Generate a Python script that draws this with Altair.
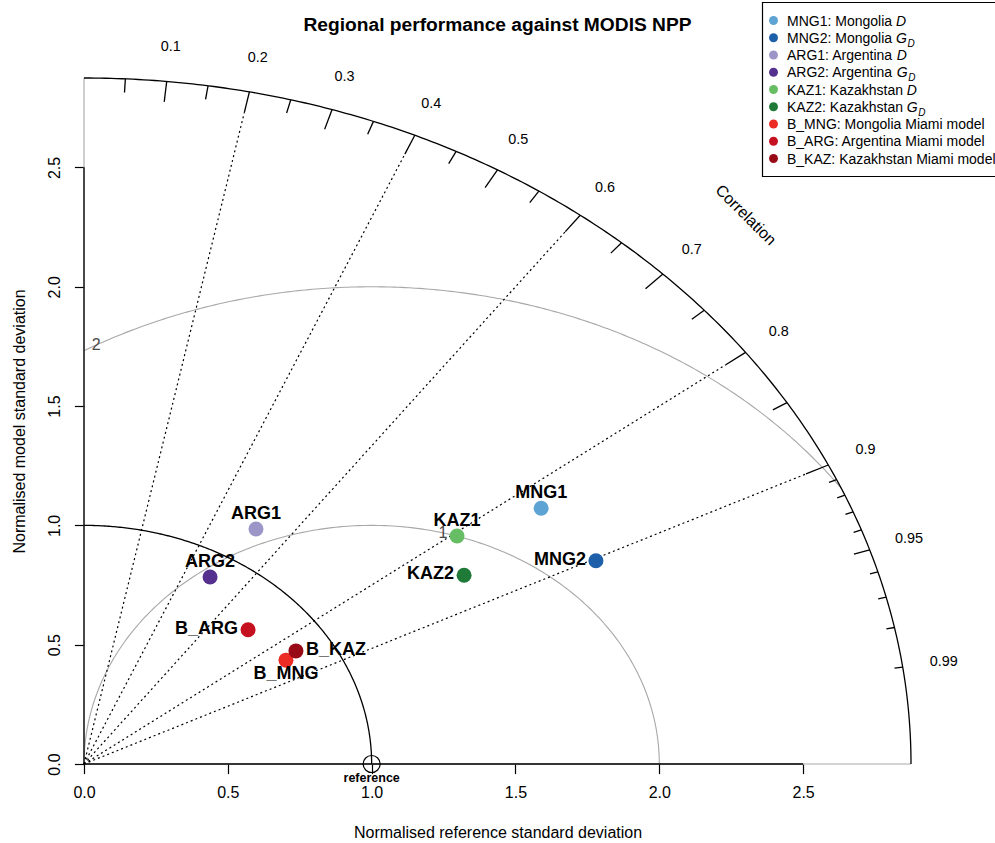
import numpy as np
import pandas as pd
import altair as alt

FONT = "Liberation Sans"

# ---- model summary statistics, normalised by the MODIS NPP reference ----
names = ["MNG1", "MNG2", "ARG1", "ARG2", "KAZ1", "KAZ2", "B_MNG", "B_ARG", "B_KAZ"]
norm_sd = [1.917, 1.973, 1.152, 0.898, 1.611, 1.540, 0.826, 0.801, 0.876]
correlation = [0.829, 0.902, 0.519, 0.488, 0.805, 0.858, 0.850, 0.712, 0.841]
point_colors = ["#5DA4D4", "#1E5FAA", "#9C96C8", "#55308F", "#66BD63",
                "#1E7A36", "#EC2B25", "#C5101F", "#990A17"]
label_side = ["above", "left", "above", "above", "above", "left", "below", "left", "right"]

legend_text = ["MNG1: Mongolia ", "MNG2: Mongolia ", "ARG1: Argentina ",
               "ARG2: Argentina ", "KAZ1: Kazakhstan ", "KAZ2: Kazakhstan ",
               "B_MNG: Mongolia Miami model", "B_ARG: Argentina Miami model",
               "B_KAZ: Kazakhstan Miami model"]
legend_math = ["D", "G_D", "D", "G_D", "D", "G_D", "", "", ""]

TITLE = "Regional performance against MODIS NPP"

# ---- diagram geometry ----
MAX_SD = 2.875
REF_SD = 1.0
RMS_LEVELS = [1, 2]
RMS_LABEL_ANGLE = [1.32, 2.07]
MAJOR_CORR = [0.1, 0.2, 0.3, 0.4, 0.5, 0.6, 0.7, 0.8, 0.9]
MED_CORR = [0.05, 0.15, 0.25, 0.35, 0.45, 0.55, 0.65, 0.75, 0.85, 0.95]
MINOR_CORR = [0.91, 0.92, 0.93, 0.94, 0.96, 0.97, 0.98, 0.99]
LABEL_CORR = MAJOR_CORR + [0.95, 0.99]
RAY_CORR = [0.2, 0.4, 0.6, 0.8, 0.9]
AXIS_TICKS = [0.0, 0.5, 1.0, 1.5, 2.0, 2.5]

W, H = 827, 686
PAD_L, PAD_T = 84, 78

xs = alt.Scale(domain=[0, MAX_SD], nice=False, zero=False)
ys = alt.Scale(domain=[0, MAX_SD], nice=False, zero=False)

x_axis = alt.Axis(values=AXIS_TICKS, format=".1f", domain=False, grid=False,
                  tickColor="black", tickSize=9.6, tickWidth=1.2,
                  labelFont=FONT, labelFontSize=16, labelColor="black",
                  labelPadding=11, labelFlush=False, labelOverlap=False,
                  title="Normalised reference standard deviation",
                  titleFont=FONT, titleFontSize=16, titleFontWeight="normal",
                  titleColor="black", titleX=W / 2, titleY=73,
                  titleBaseline="alphabetic", titleAlign="center")
y_axis = alt.Axis(values=AXIS_TICKS, format=".1f", domain=False, grid=False,
                  tickColor="black", tickSize=9.6, tickWidth=1.2,
                  labelFont=FONT, labelFontSize=16, labelColor="black",
                  labelAngle=270, labelAlign="center", labelBaseline="alphabetic",
                  labelPadding=15.4, labelFlush=False, labelOverlap=False,
                  title="Normalised model standard deviation",
                  titleFont=FONT, titleFontSize=16, titleFontWeight="normal",
                  titleColor="black", titleAngle=270, titleX=-60, titleY=H / 2,
                  titleBaseline="alphabetic", titleAlign="center")


# every layer carries the same axis definition so the shared axes merge cleanly
def X(field="x"):
    return alt.X(f"{field}:Q", scale=xs, axis=x_axis)


def Y(field="y"):
    return alt.Y(f"{field}:Q", scale=ys, axis=y_axis)


# page pixel -> data units on the shared scales (legend and title placement)
def px_x(px):
    return (px - PAD_L) / W * MAX_SD


def px_y(py):
    return (PAD_T + H - py) / H * MAX_SD


def arc_frame(cx, r, t0, t1, name, n=240):
    t = np.linspace(t0, t1, n)
    return pd.DataFrame({"x": cx + r * np.cos(t), "y": r * np.sin(t),
                         "i": np.arange(n), "arc": name})


# standard-deviation arcs: reference and outer boundary
sd_arcs = pd.concat([arc_frame(0, REF_SD, 0, np.pi / 2, "ref"),
                     arc_frame(0, MAX_SD, 0, np.pi / 2, "outer")])

# centred RMS difference arcs, kept inside the quadrant
rms_parts = []
for g in RMS_LEVELS:
    c_hi = (MAX_SD ** 2 - REF_SD ** 2 - g ** 2) / (2 * g * REF_SD)
    t0 = np.arccos(min(1.0, c_hi))
    t1 = np.arccos(max(-1.0, -REF_SD / g))
    rms_parts.append(arc_frame(REF_SD, g, t0, t1, f"rms{g}"))
rms_arcs = pd.concat(rms_parts)
rms_labels = pd.DataFrame({
    "x": [REF_SD + g * np.cos(a) for g, a in zip(RMS_LEVELS, RMS_LABEL_ANGLE)],
    "y": [g * np.sin(a) for g, a in zip(RMS_LEVELS, RMS_LABEL_ANGLE)],
    "t": [str(g) for g in RMS_LEVELS]})


def ray_frame(corrs, r0, r1):
    a = np.arccos(np.array(corrs))
    return pd.DataFrame({"x": r0 * np.cos(a), "y": r0 * np.sin(a),
                         "x2": r1 * np.cos(a), "y2": r1 * np.sin(a)})


rays = ray_frame(RAY_CORR, 0.0, 0.97 * MAX_SD)
ticks = pd.concat([ray_frame(MAJOR_CORR, 0.97 * MAX_SD, MAX_SD),
                   ray_frame(MED_CORR, 0.98 * MAX_SD, MAX_SD),
                   ray_frame(MINOR_CORR, 0.99 * MAX_SD, MAX_SD)])
la = np.arccos(np.array(LABEL_CORR))
corr_labels = pd.DataFrame({"x": 1.05 * MAX_SD * np.cos(la),
                            "y": 1.05 * MAX_SD * np.sin(la),
                            "t": [f"{c:g}" for c in LABEL_CORR]})

gray_axes = pd.DataFrame({"x": [0.0, 0.0], "y": [0.0, 0.0],
                          "x2": [MAX_SD, 0.0], "y2": [0.0, MAX_SD]})
black_axes = pd.DataFrame({"x": [0.0, 0.0], "y": [0.0, 0.0],
                           "x2": [AXIS_TICKS[-1], 0.0], "y2": [0.0, AXIS_TICKS[-1]]})

sd_arr = np.array(norm_sd)
cr_arr = np.array(correlation)
pts = pd.DataFrame({"name": names, "x": sd_arr * cr_arr,
                    "y": sd_arr * np.sqrt(1 - cr_arr ** 2),
                    "color": point_colors, "side": label_side})

ref_df = pd.DataFrame({"x": [REF_SD], "y": [0.0], "t": ["reference"]})
corr_title = pd.DataFrame({"x": [0.8 * MAX_SD], "y": [0.8 * MAX_SD], "t": ["Correlation"]})

l_points = alt.Chart(pts).mark_circle(size=225, opacity=1).encode(
    x=X(), y=Y(), color=alt.Color("color:N", scale=None))
l_gray_axes = alt.Chart(gray_axes).mark_rule(color="#A8A8A8", strokeWidth=1.1).encode(
    x=X(), y=Y(), x2="x2:Q", y2="y2:Q")
l_rms = alt.Chart(rms_arcs).mark_line(color="#A8A8A8", strokeWidth=1.1).encode(
    x=X(), y=Y(), order="i:Q", detail="arc:N")
l_rays = alt.Chart(rays).mark_rule(color="black", strokeWidth=1.2, strokeDash=[2, 3]).encode(
    x=X(), y=Y(), x2="x2:Q", y2="y2:Q")
l_sd = alt.Chart(sd_arcs).mark_line(color="black", strokeWidth=1.3).encode(
    x=X(), y=Y(), order="i:Q", detail="arc:N")
l_ticks = alt.Chart(ticks).mark_rule(color="black", strokeWidth=1.3).encode(
    x=X(), y=Y(), x2="x2:Q", y2="y2:Q")
l_black_axes = alt.Chart(black_axes).mark_rule(color="black", strokeWidth=1.3).encode(
    x=X(), y=Y(), x2="x2:Q", y2="y2:Q")
l_rms_lab = alt.Chart(rms_labels).mark_text(font=FONT, fontSize=16, color="#4a4a4a").encode(
    x=X(), y=Y(), text="t:N")
l_corr_lab = alt.Chart(corr_labels).mark_text(font=FONT, fontSize=14.4, color="black").encode(
    x=X(), y=Y(), text="t:N")
l_corr_title = alt.Chart(corr_title).mark_text(font=FONT, fontSize=16, color="black", angle=45).encode(
    x=X(), y=Y(), text="t:N")
l_ref = alt.Chart(ref_df).mark_point(shape="circle", filled=False, size=290,
                                     strokeWidth=1.2, color="black", opacity=1).encode(x=X(), y=Y())
l_ref_lab = alt.Chart(ref_df).mark_text(font=FONT, fontSize=12.5, fontWeight="bold",
                                        baseline="alphabetic", dy=18, color="black").encode(
    x=X(), y=Y(), text="t:N")

side_style = {"above": dict(align="center", baseline="middle", dy=-15),
              "below": dict(align="center", baseline="middle", dy=14),
              "left": dict(align="right", baseline="middle", dx=-10, dy=-1),
              "right": dict(align="left", baseline="middle", dx=10, dy=-1)}
l_pt_labels = [
    alt.Chart(pts).transform_filter(alt.datum.side == s).mark_text(
        font=FONT, fontSize=18, fontWeight="bold", color="black", **kw).encode(
        x=X(), y=Y(), text="name:N")
    for s, kw in side_style.items()
]

# ---- legend: regular text followed by italic symbols (G with subscript D) ----
ARIAL = {' ': 278, ':': 278, '_': 556, '1': 556, '2': 556, 'A': 667, 'B': 667,
         'G': 778, 'K': 667, 'M': 833, 'N': 722, 'R': 722, 'Z': 611, 'a': 556,
         'd': 556, 'e': 556, 'g': 556, 'h': 556, 'i': 222, 'k': 500, 'l': 222,
         'm': 833, 'n': 556, 'o': 556, 'r': 333, 's': 500, 't': 278, 'z': 500}
LEG_FS = 14


def text_width(s, size):
    return sum(ARIAL.get(ch, 556) for ch in s) * size / 1000.0


row_c = [20.5 + 17.25 * i for i in range(len(names))]
sym_px, txt_px = 773.5, 787.0
leg = pd.DataFrame({"x": [px_x(sym_px)] * len(names), "y": [px_y(c) for c in row_c],
                    "color": point_colors,
                    "tx": [px_x(txt_px)] * len(names), "ty": [px_y(c + 5) for c in row_c],
                    "t": legend_text})
main_math, sub_math, mx, my, sx, sy = [], [], [], [], [], []
for t, m, c in zip(legend_text, legend_math, row_c):
    if not m:
        continue
    x0 = txt_px + text_width(t, LEG_FS)
    main_math.append(m.split("_")[0])
    mx.append(px_x(x0))
    my.append(px_y(c + 5))
    if "_" in m:
        sub_math.append(m.split("_")[1])
        sx.append(px_x(x0 + ARIAL["G"] * LEG_FS / 1000.0 + 0.6))
        sy.append(px_y(c + 9))
math_df = pd.DataFrame({"x": mx, "y": my, "t": main_math})
sub_df = pd.DataFrame({"x": sx, "y": sy, "t": sub_math})
box = pd.DataFrame({"x": [px_x(762.5)], "y": [px_y(2.5)],
                    "x2": [px_x(1000)], "y2": [px_y(176.5)]})

l_box = alt.Chart(box).mark_rect(fill="white", stroke="black", strokeWidth=1.2).encode(
    x=X(), y=Y(), x2="x2:Q", y2="y2:Q")
l_leg_sym = alt.Chart(leg).mark_circle(size=80, opacity=1).encode(
    x=X(), y=Y(), color=alt.Color("color:N", scale=None))
l_leg_txt = alt.Chart(leg).mark_text(font=FONT, fontSize=LEG_FS, align="left",
                                     baseline="alphabetic", color="black").encode(
    x=X("tx"), y=Y("ty"), text="t:N")
l_leg_math = alt.Chart(math_df).mark_text(font=FONT, fontSize=LEG_FS, fontStyle="italic",
                                          align="left", baseline="alphabetic", color="black").encode(
    x=X(), y=Y(), text="t:N")
l_leg_sub = alt.Chart(sub_df).mark_text(font=FONT, fontSize=10, fontStyle="italic",
                                        align="left", baseline="alphabetic", color="black").encode(
    x=X(), y=Y(), text="t:N")

title_df = pd.DataFrame({"x": [px_x(PAD_L + W / 2)], "y": [px_y(31)], "t": [TITLE]})
l_title = alt.Chart(title_df).mark_text(
    font=FONT, fontSize=19.2, fontWeight="bold", align="center",
    baseline="alphabetic", color="black").encode(x=X(), y=Y(), text="t:N")

chart = alt.layer(
    l_gray_axes, l_rms, l_rays, l_sd, l_ticks, l_black_axes,
    l_rms_lab, l_corr_lab, l_corr_title, l_ref, l_ref_lab,
    l_points, *l_pt_labels,
    l_box, l_leg_sym, l_leg_txt, l_leg_math, l_leg_sub, l_title,
).properties(
    width=W, height=H,
    background="white",
    autosize=alt.AutoSizeParams(type="none"),
    padding={"left": PAD_L, "top": PAD_T, "right": 995 - PAD_L - W, "bottom": 843 - PAD_T - H},
).configure_view(strokeWidth=0)

chart.save("out.html", embed_options={"renderer": "svg", "actions": False})
